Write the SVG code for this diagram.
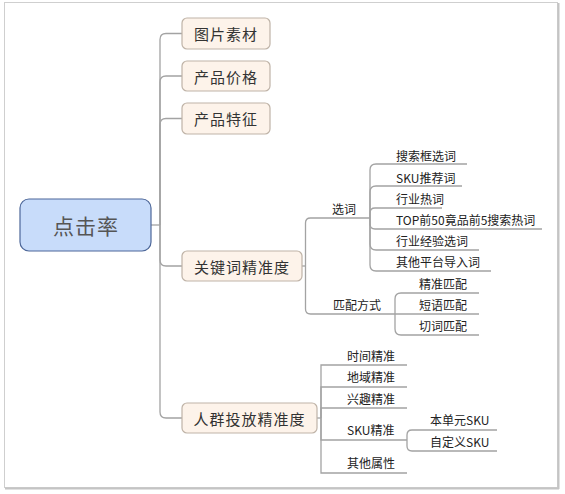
<svg xmlns="http://www.w3.org/2000/svg" width="565" height="494" viewBox="0 0 565 494">
<style>
  text { font-family: "Noto Sans CJK SC", "Noto Sans", sans-serif; dominant-baseline: central; }
  .root rect { fill: #c8dcfa; stroke: #4d6799; stroke-width: 1.2; }
  .root text { font-size: 21px; fill: #555; text-anchor: middle; letter-spacing: 1px; }
  .l1 rect { fill: #fdf3ea; stroke: #bfb3a7; stroke-width: 1.2; }
  .l1 text { font-size: 15px; fill: #333; text-anchor: middle; letter-spacing: 1px; }
  .l2 text { font-size: 12px; fill: #222; }
  #connectors path { fill: none; stroke: #a3a3a3; stroke-width: 1.3; }
</style>
<rect x="4.5" y="2.5" width="553" height="485" fill="#fff" stroke="#cfcfcf" stroke-width="1"/>
<line x1="558.5" y1="3" x2="558.5" y2="489" stroke="#c4c4c4" stroke-width="2"/>
<line x1="5" y1="488.5" x2="559" y2="488.5" stroke="#c4c4c4" stroke-width="2"/>

<g id="connectors">
  <path d="M151,225 H160"/>
  <path d="M160,225 V39.5 Q160,33.5 166,33.5 H182"/>
  <path d="M160,225 V82 Q160,76 166,76 H182"/>
  <path d="M160,225 V124.5 Q160,118.5 166,118.5 H182"/>
  <path d="M160,225 V260 Q160,266 166,266 H182"/>
  <path d="M160,225 V412 Q160,418 166,418 H182"/>

  <path d="M302,266 H305.5"/>
  <path d="M305.5,266 V223 Q305.5,218 310.5,218 H370"/>
  <path d="M305.5,266 V309 Q305.5,314 310.5,314 H395"/>

  <path d="M370,218 V170 Q370,164 376,164 H467"/>
  <path d="M370,218 V192 Q370,186 376,186 H462"/>
  <path d="M370,218 V213 Q370,208 375,208 H442"/>
  <path d="M370,218 V224 Q370,229 375,229 H542"/>
  <path d="M370,218 V244 Q370,250 376,250 H479"/>
  <path d="M370,218 V265 Q370,271 376,271 H491"/>

  <path d="M395,314 V299 Q395,293 401,293 H479"/>
  <path d="M395,314 H479"/>
  <path d="M395,314 V329 Q395,335 401,335 H479"/>

  <path d="M317,418 H321"/>
  <path d="M321,418 V365 H407"/>
  <path d="M321,418 V387 H407"/>
  <path d="M321,418 V408 H407"/>
  <path d="M321,418 V440 H407"/>
  <path d="M321,418 V473 H407"/>

  <path d="M407,440 V435 Q407,430 412,430 H497"/>
  <path d="M407,440 V446 Q407,451 412,451 H497"/>
</g>

<g id="root" class="root">
  <rect x="20" y="199" width="131" height="52" rx="9"/>
  <text x="86" y="225">点击率</text>
</g>

<g id="n-tupian" class="l1">
  <rect x="182" y="18" width="88" height="31" rx="5"/>
  <text x="226" y="33.5">图片素材</text>
</g>
<g id="n-jiage" class="l1">
  <rect x="182" y="61" width="88" height="30" rx="5"/>
  <text x="226" y="76">产品价格</text>
</g>
<g id="n-tezheng" class="l1">
  <rect x="182" y="103" width="88" height="31" rx="5"/>
  <text x="226" y="118.5">产品特征</text>
</g>
<g id="n-guanjianci" class="l1">
  <rect x="182" y="251" width="120" height="30" rx="5"/>
  <text x="242" y="266">关键词精准度</text>
</g>
<g id="n-renqun" class="l1">
  <rect x="182" y="403" width="135" height="30" rx="5"/>
  <text x="249.5" y="418">人群投放精准度</text>
</g>

<g id="n-xuanci" class="l2"><text x="332" y="208">选词</text></g>
<g id="n-pipei" class="l2"><text x="333" y="304">匹配方式</text></g>

<g id="n-c1" class="l2"><text x="396" y="155">搜索框选词</text></g>
<g id="n-c2" class="l2"><text x="396" y="177">SKU推荐词</text></g>
<g id="n-c3" class="l2"><text x="396" y="198">行业热词</text></g>
<g id="n-c4" class="l2"><text x="396" y="219.5">TOP前50竟品前5搜索热词</text></g>
<g id="n-c5" class="l2"><text x="396" y="240.5">行业经验选词</text></g>
<g id="n-c6" class="l2"><text x="396" y="261">其他平台导入词</text></g>

<g id="n-p1" class="l2"><text x="419" y="283.5">精准匹配</text></g>
<g id="n-p2" class="l2"><text x="419" y="304">短语匹配</text></g>
<g id="n-p3" class="l2"><text x="419" y="325">切词匹配</text></g>

<g id="n-r1" class="l2"><text x="347" y="355">时间精准</text></g>
<g id="n-r2" class="l2"><text x="347" y="376.5">地域精准</text></g>
<g id="n-r3" class="l2"><text x="347" y="398">兴趣精准</text></g>
<g id="n-r4" class="l2"><text x="347" y="429">SKU精准</text></g>
<g id="n-r5" class="l2"><text x="347" y="462">其他属性</text></g>

<g id="n-s1" class="l2"><text x="430" y="419">本单元SKU</text></g>
<g id="n-s2" class="l2"><text x="430" y="441">自定义SKU</text></g>
</svg>
